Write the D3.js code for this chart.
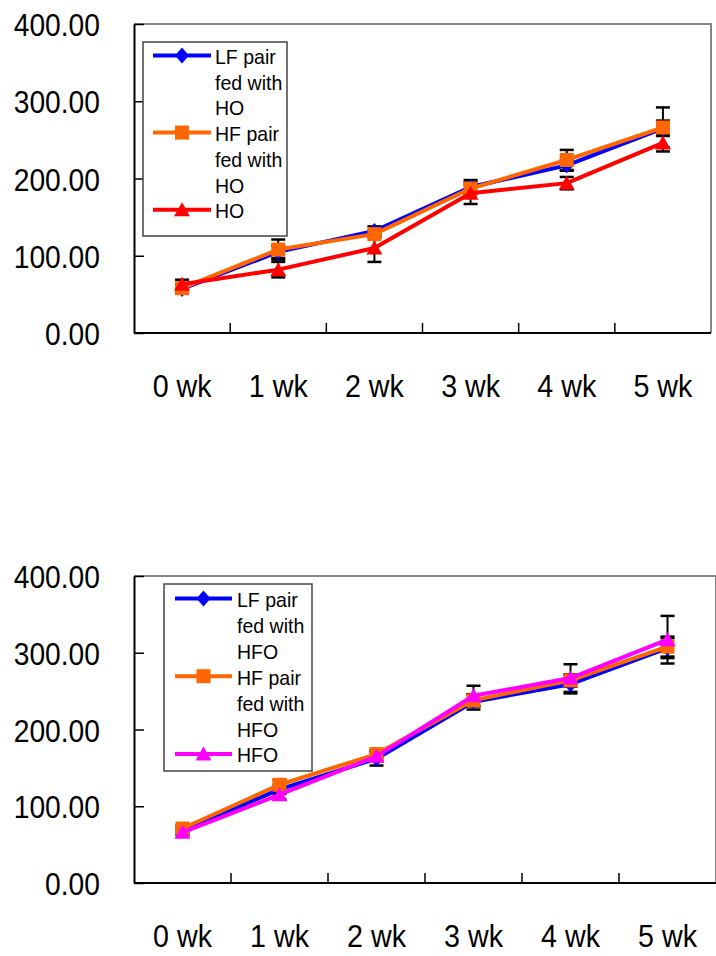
<!DOCTYPE html>
<html>
<head>
<meta charset="utf-8">
<script src="https://cdn.jsdelivr.net/npm/d3@7/dist/d3.min.js"></script>
<style>
  html, body { margin: 0; padding: 0; background: #fff; }
  svg { display: block; }
  text { font-family: "Liberation Sans", Arial, sans-serif; fill: #000; }
</style>
</head>
<body>
<svg id="chart" width="716" height="956"></svg>
<script>
// ---- data ----
const weeks = ["0 wk", "1 wk", "2 wk", "3 wk", "4 wk", "5 wk"];
const yTicks = [0, 100, 200, 300, 400];

// Top panel (HO)
const lfHO = [57, 105, 132, 189, 217, 265];
const lfHOErr = [6, 8, 6, 9, 7, 10];
const hfHO = [58, 108, 128, 187, 224, 266];
const hfHOErr = [5, 13, 4, 5, 13, 26];
const hoMean = [63, 82, 110, 181, 194, 246];
const hoErr = [6, 10, 18, 14, 8, 11];

// Bottom panel (HFO)
const lfHFO = [68, 122, 162, 236, 259, 306];
const lfHFOErr = [4, 6, 9, 10, 12, 13];
const hfHFO = [71, 128, 168, 238, 264, 308];
const hfHFOErr = [4, 6, 5, 8, 8, 13];
const hfoMean = [66, 115, 165, 244, 267, 317];
const hfoErr = [4, 6, 6, 13, 18, 31];

const legendTop = [["LF pair", "fed with", "HO"], ["HF pair", "fed with", "HO"], ["HO"]];
const legendBottom = [["LF pair", "fed with", "HFO"], ["HF pair", "fed with", "HFO"], ["HFO"]];

// ---- drawing ----
const svg = d3.select("#chart");
const SX = 0.91;

function markerPath(type) {
  if (type === "diamond") return "M0,-8L7,0L0,8L-7,0Z";
  if (type === "square") return "M-7,-7H7V7H-7Z";
  return "M0,-7.5L8,6.5L-8,6.5Z";
}

function drawPanel(cfg) {
  const g = svg.append("g");
  const x = d3.scaleBand().domain(weeks).range([cfg.left, cfg.right]).padding(0);
  const y = d3.scaleLinear().domain([0, 400]).range([cfg.bottom, cfg.top]);

  // top & right frame (gray)
  g.append("path")
    .attr("d", `M${cfg.left},${cfg.top}H${cfg.right}V${cfg.bottom}`)
    .attr("fill", "none").attr("stroke", "#858585").attr("stroke-width", 2);

  // y axis with inward ticks
  const yAxis = d3.axisLeft(y).tickValues(yTicks).tickSizeInner(-10).tickSizeOuter(0).tickFormat("");
  const ya = g.append("g").attr("transform", `translate(${cfg.left},0)`).call(yAxis);
  ya.select(".domain").attr("stroke", "#000").attr("stroke-width", 2);
  ya.selectAll(".tick line").attr("stroke", "#000").attr("stroke-width", 1.5);

  // y labels
  yTicks.forEach(v => {
    g.append("g").attr("transform", `translate(100,${y(v) + 12})`)
      .append("text").attr("transform", `scale(${SX},1)`)
      .attr("text-anchor", "end").attr("font-size", 31)
      .text(d3.format(".2f")(v));
  });

  // x axis line
  g.append("line").attr("x1", cfg.left).attr("x2", cfg.right)
    .attr("y1", cfg.bottom).attr("y2", cfg.bottom)
    .attr("stroke", "#000").attr("stroke-width", 2);
  // x ticks at band boundaries (inward)
  weeks.slice(0, weeks.length - 1).forEach(w => {
    const xx = x(w) + x.bandwidth();
    g.append("line").attr("x1", xx).attr("x2", xx)
      .attr("y1", cfg.bottom).attr("y2", cfg.bottom - 10)
      .attr("stroke", "#000").attr("stroke-width", 1.5);
  });
  // x labels
  weeks.forEach(w => {
    g.append("g").attr("transform", `translate(${x(w) + x.bandwidth() / 2},${cfg.bottom + 63.5})`)
      .append("text").attr("transform", `scale(${SX + 0.03},1)`)
      .attr("text-anchor", "middle").attr("font-size", 30.5)
      .text(w);
  });

  const cx = w => x(w) + x.bandwidth() / 2;

  // error bars
  cfg.series.forEach(s => {
    weeks.forEach((w, i) => {
      const xc = cx(w), y1 = y(s.values[i] + s.err[i]), y2 = y(s.values[i] - s.err[i]);
      g.append("line").attr("x1", xc).attr("x2", xc).attr("y1", y1).attr("y2", y2)
        .attr("stroke", "#000").attr("stroke-width", 2);
      [y1, y2].forEach(yy => g.append("line").attr("x1", xc - 7).attr("x2", xc + 7)
        .attr("y1", yy).attr("y2", yy).attr("stroke", "#000").attr("stroke-width", 2.5));
    });
  });

  // lines and markers
  const line = d3.line().x((d, i) => cx(weeks[i])).y(d => y(d));
  cfg.series.forEach(s => {
    g.append("path").datum(s.values).attr("d", line)
      .attr("fill", "none").attr("stroke", s.color).attr("stroke-width", 4)
      .attr("stroke-linejoin", "round");
    g.selectAll(null).data(s.values).enter().append("path")
      .attr("d", markerPath(s.marker))
      .attr("transform", (d, i) => `translate(${cx(weeks[i])},${y(d)})`)
      .attr("fill", s.color);
  });

  // legend
  const L = cfg.legend;
  g.append("rect").attr("x", L.x).attr("y", L.y).attr("width", L.w).attr("height", L.h)
    .attr("fill", "#fff").attr("stroke", "#444").attr("stroke-width", 1.5);
  let line0 = 0;
  cfg.series.forEach((s, k) => {
    const lines = cfg.legendText[k];
    const base = L.firstBase + line0 * L.lh;
    const my = base - 8.5;
    g.append("line").attr("x1", L.sx1).attr("x2", L.sx2).attr("y1", my).attr("y2", my)
      .attr("stroke", s.color).attr("stroke-width", 4);
    g.append("path").attr("d", markerPath(s.marker))
      .attr("transform", `translate(${(L.sx1 + L.sx2) / 2},${my})`).attr("fill", s.color);
    lines.forEach((t, j) => {
      g.append("g").attr("transform", `translate(${L.tx},${base + j * L.lh})`)
        .append("text").attr("transform", `scale(${SX + 0.02},1)`)
        .attr("font-size", 21).text(t);
    });
    line0 += lines.length;
  });
}

drawPanel({
  left: 134, right: 711, top: 24, bottom: 333,
  series: [
    { values: lfHO, err: lfHOErr, color: "#0000FF", marker: "diamond" },
    { values: hfHO, err: hfHOErr, color: "#FF6600", marker: "square" },
    { values: hoMean, err: hoErr, color: "#FF0000", marker: "triangle" }
  ],
  legendText: legendTop,
  legend: { x: 143, y: 42, w: 144, h: 194, sx1: 153, sx2: 211, tx: 215, firstBase: 64, lh: 25.7 }
});

drawPanel({
  left: 134, right: 716, top: 576, bottom: 883,
  series: [
    { values: lfHFO, err: lfHFOErr, color: "#0000FF", marker: "diamond" },
    { values: hfHFO, err: hfHFOErr, color: "#FF6600", marker: "square" },
    { values: hfoMean, err: hfoErr, color: "#FF00FF", marker: "triangle" }
  ],
  legendText: legendBottom,
  legend: { x: 164, y: 584, w: 148, h: 187, sx1: 175, sx2: 232, tx: 237, firstBase: 607, lh: 25.9 }
});
</script>
</body>
</html>
